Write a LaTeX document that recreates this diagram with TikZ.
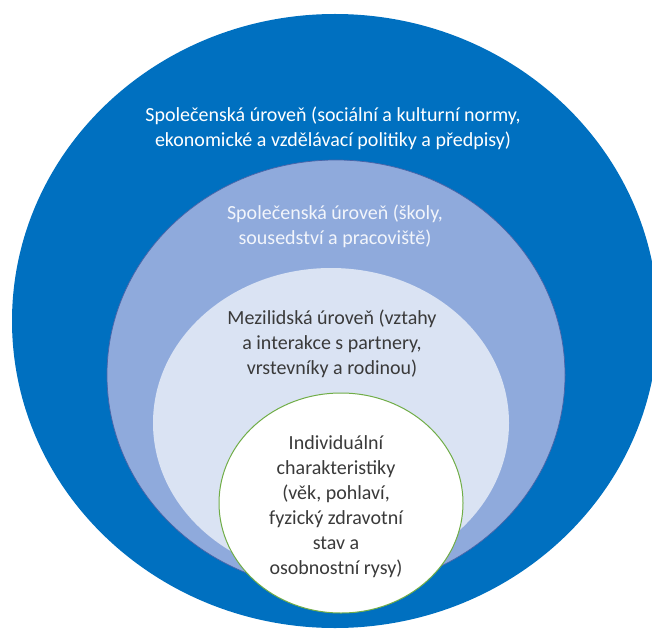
\documentclass[tikz,border=0pt]{standalone}
\usepackage{fontspec}
\setmainfont{Carlito}
\definecolor{dblue}{HTML}{0070C0}
\definecolor{mblue}{HTML}{8FAADC}
\definecolor{lblue}{HTML}{DAE3F3}
\definecolor{mline}{HTML}{4A64A8}
\definecolor{grn}{HTML}{70AD47}
\definecolor{dtext}{HTML}{3A3A3A}
\definecolor{wtext}{HTML}{F2F5FB}
\tikzset{
  lbl/.style={align=center, inner sep=0pt, font=\fontsize{20}{25}\selectfont}
}
\begin{document}
\begin{tikzpicture}[x=1pt,y=-1pt]
\useasboundingbox (0,0) rectangle (652,628);
\clip (0,0) rectangle (652,628);
\fill[dblue] (335,321) ellipse [x radius=323, y radius=307];
\fill[mblue] (336,375) ellipse [x radius=229, y radius=215];
\draw[mline, line width=0.7pt] (336,375) ellipse [x radius=229, y radius=215];
\fill[lblue] (331,423) ellipse [x radius=178, y radius=155];
\filldraw[fill=white, draw=grn, line width=1pt] (341,503) ellipse [x radius=122, y radius=110];
\node[lbl, text=white] (t1) at (333,128) {Společenská úroveň (sociální a kulturní normy,\\ekonomické a vzdělávací politiky a předpisy)};
\node[lbl, text=wtext] (t2) at (335,226) {Společenská úroveň (školy,\\sousedství a pracoviště)};
\node[lbl, text=dtext] (t3) at (332,344) {Mezilidská úroveň (vztahy\\a interakce s partnery,\\vrstevníky a rodinou)};
\node[lbl, text=dtext] (t4) at (336,507) {Individuální\\charakteristiky\\(věk, pohlaví,\\fyzický zdravotní\\stav a\\osobnostní rysy)};
\end{tikzpicture}
\end{document}
